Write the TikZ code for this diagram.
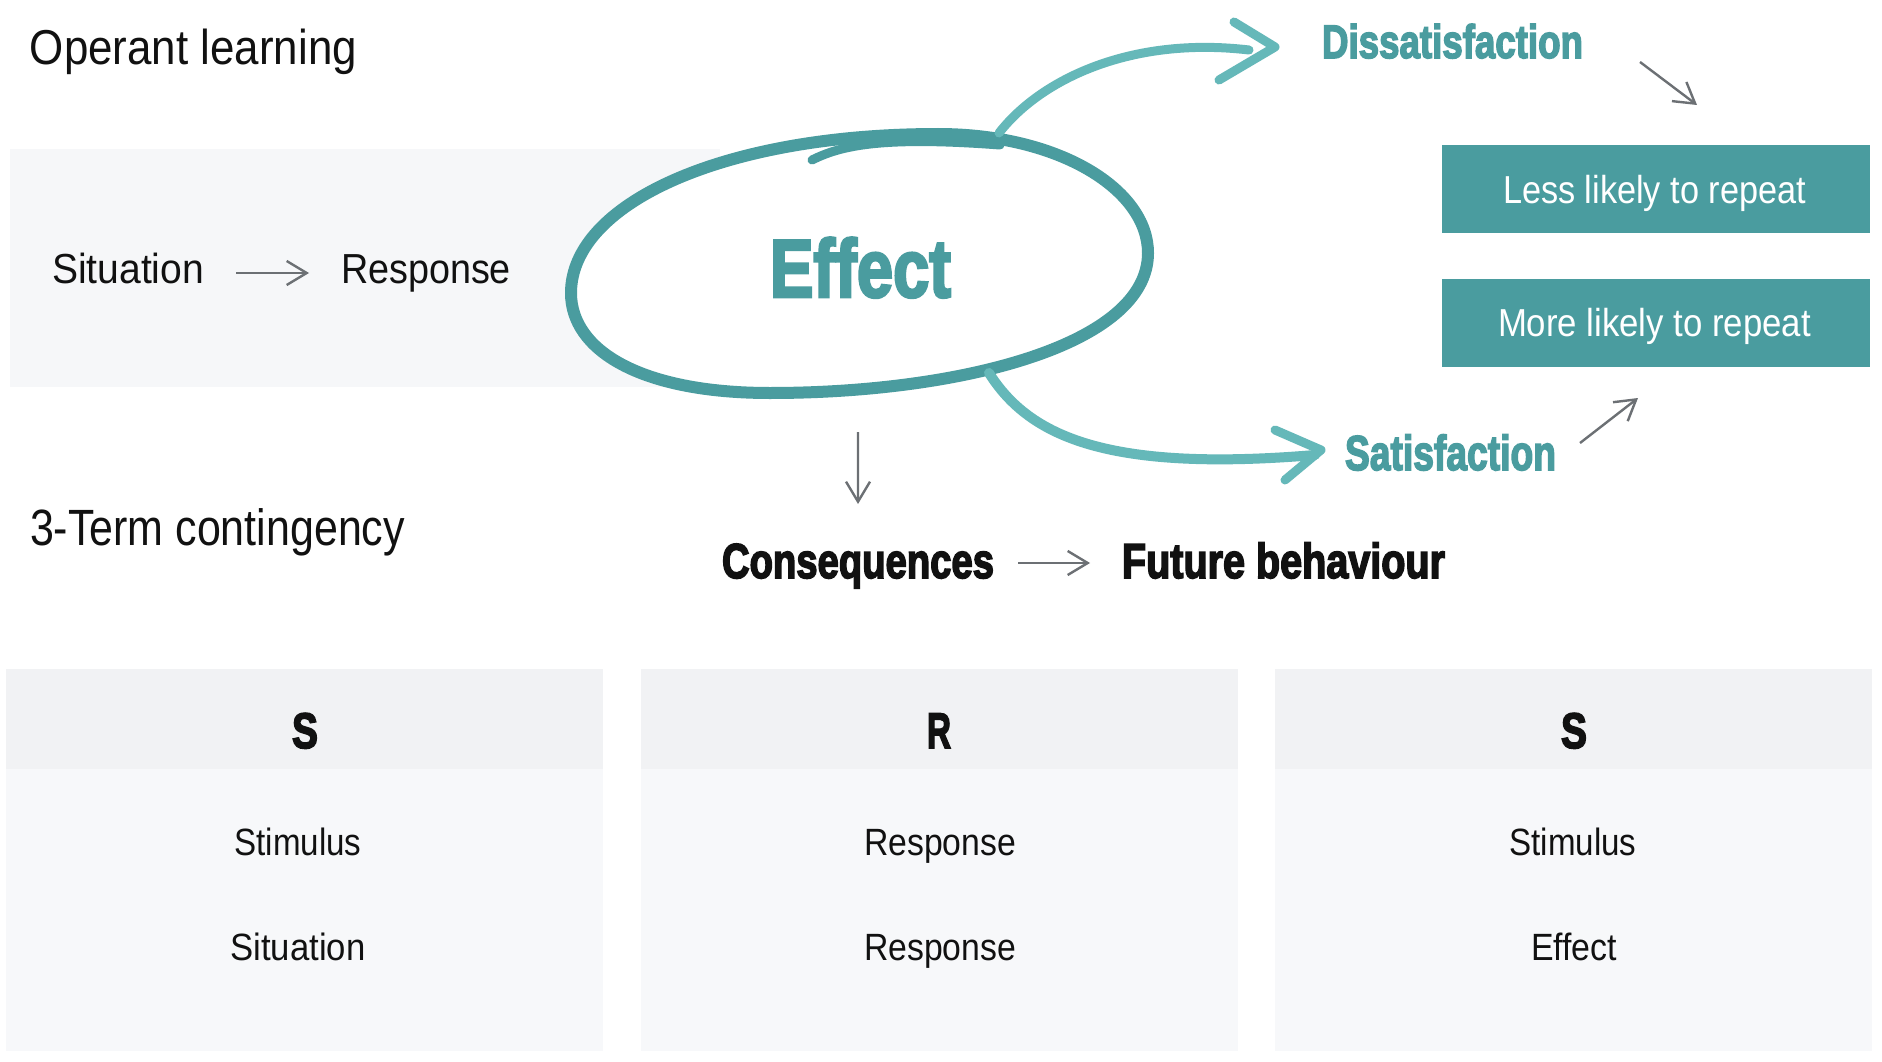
\documentclass[tikz,border=0pt]{standalone}
\usepackage{fontspec}
\setmainfont{Liberation Sans}
\newfontfamily\heavyfont[FakeBold=3.5]{Liberation Sans Bold}
\usetikzlibrary{arrows.meta,calc}
\definecolor{tealdark}{HTML}{4A9C9F}
\definecolor{teallight}{HTML}{65B8B9}
\definecolor{bandgrey}{HTML}{F6F7F9}
\definecolor{hdrgrey}{HTML}{F1F2F4}
\definecolor{bodygrey}{HTML}{F7F8FA}
\definecolor{arrowgrey}{HTML}{6C7074}
\definecolor{ink}{HTML}{111111}
\newcommand{\fitreg}[3]{\resizebox{#1pt}{\height}{\fontsize{#2pt}{#2pt}\selectfont #3}}
\newcommand{\fitheavy}[3]{\resizebox{#1pt}{\height}{\heavyfont\fontsize{#2pt}{#2pt}\selectfont #3}}
\begin{document}
\begin{tikzpicture}[x=1pt,y=-1pt,
  txt/.style={inner sep=0pt,outer sep=0pt,anchor=base west,text=ink},
  ctxt/.style={txt,anchor=base},
  garrow/.style={draw=arrowgrey,line width=2.4pt,-{Straight Barb[length=20pt,width=24pt]}},
  tarrow/.style={draw=teallight,line width=9pt,line cap=round,line join=round},
  boxstyle/.style={fill=tealdark,minimum width=428pt,minimum height=88pt,inner sep=0pt,outer sep=0pt}]
\useasboundingbox (0,0) rectangle (1882,1062);
\fill[white] (0,0) rectangle (1882,1062);
% top band
\fill[bandgrey] (10,149) rectangle (720,387);
% bottom table
\fill[hdrgrey] (6,669) rectangle (603,769);
\fill[bodygrey] (6,769) rectangle (603,1051);
\fill[hdrgrey] (641,669) rectangle (1238,769);
\fill[bodygrey] (641,769) rectangle (1238,1051);
\fill[hdrgrey] (1275,669) rectangle (1872,769);
\fill[bodygrey] (1275,769) rectangle (1872,1051);
% oval
\draw[tealdark,line width=12pt,fill=white]
  (571,293) .. controls (571,205) and (720,134) .. (938,134)
            .. controls (1060,134) and (1148,190) .. (1148,253)
            .. controls (1148,345) and (960,393) .. (770,393)
            .. controls (640,393) and (571,350) .. (571,293) -- cycle;
\draw[tealdark,line width=9pt,line cap=round] (812,160) .. controls (840,146) and (880,136) .. (1000,145);
\node[txt,text=tealdark] (effect) at (770,297) {\fitheavy{181}{82}{Effect}};
% teal arrows
\coordinate (dstart) at (999,133);
\coordinate (dend) at (1249,50);
\coordinate (dtip) at (1275,47);
\coordinate (sstart) at (989,373);
\coordinate (send) at (1315,455);
\coordinate (stip) at (1321,450);
\coordinate (effbot) at (858,432);
\draw[tarrow] (dstart) .. controls (1040,80) and (1130,36) .. (dend);
\draw[tarrow] ($(dtip)+(-41,-25)$) -- (dtip) -- ($(dtip)+(-56,33)$);
\draw[tarrow,line width=10pt] (sstart) .. controls (1030,438) and (1110,472) .. (send);
\draw[tarrow] ($(stip)+(-46,-20)$) -- (stip) -- ($(stip)+(-36,30)$);
% right side
\node[txt,text=tealdark] (dis) at (1322,58) {\fitheavy{261}{47}{Dissatisfaction}};
\node[txt,text=tealdark] (sat) at (1345,470) {\fitheavy{211}{49}{Satisfaction}};
\node[boxstyle] (less) at (1656,189) {};
\node[boxstyle] (more) at (1656,323) {};
\node[txt,text=white] (lesst) at (1503,203) {\fitreg{303}{39}{Less likely to repeat}};
\node[txt,text=white] (moret) at (1498,336) {\fitreg{313}{39}{More likely to repeat}};
% left texts
\node[txt] (op) at (30,65) {\fitreg{327}{49}{Operant learning}};
\node[txt] (sit) at (52,283) {\fitreg{152}{42}{Situation}};
\node[txt] (resp) at (341,283) {\fitreg{170}{42}{Response}};
\node[txt] (term) at (30,545) {\fitreg{375}{51}{3-Term contingency}};
\node[txt] (cons) at (722,578) {\fitheavy{272}{49}{Consequences}};
\node[txt] (fut) at (1122,578) {\fitheavy{323}{49}{Future behaviour}};
% grey arrows
\draw[garrow] ($(sit.base east)+(32,-10)$) -- ($(resp.base west)+(-32,-10)$);
\draw[garrow] ($(cons.base east)+(24,-15)$) -- ($(fut.base west)+(-32,-15)$);
\draw[garrow] (effbot) -- ($(cons.base)+(0,-74)$);
\draw[garrow] ($(dis.base east)+(57,4)$) -- ($(less.north)+(41,-40)$);
\draw[garrow] ($(sat.base east)+(24,-27)$) -- ($(more.south)+(-18,31)$);
% table texts
\node[ctxt] (h1) at (305,748) {\fitheavy{26}{50}{S}};
\node[ctxt] (h2) at (939,748) {\fitheavy{24}{50}{R}};
\node[ctxt] (h3) at (1574,748) {\fitheavy{26}{50}{S}};
\node[ctxt] (c1a) at (298,855) {\fitreg{127}{38}{Stimulus}};
\node[ctxt] (c1b) at (298,960) {\fitreg{135}{38}{Situation}};
\node[ctxt] (c2a) at (940,855) {\fitreg{152}{38}{Response}};
\node[ctxt] (c2b) at (940,960) {\fitreg{152}{38}{Response}};
\node[ctxt] (c3a) at (1573,855) {\fitreg{127}{38}{Stimulus}};
\node[ctxt] (c3b) at (1574,960) {\fitreg{86}{38}{Effect}};
\end{tikzpicture}
\end{document}
